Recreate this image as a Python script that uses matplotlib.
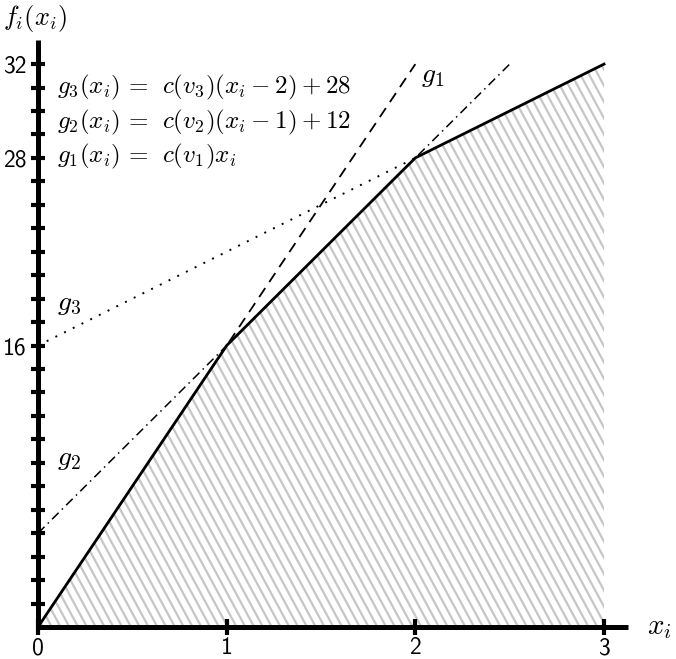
import numpy as np
import matplotlib

matplotlib.use("Agg")
import matplotlib.pyplot as plt
from matplotlib.collections import LineCollection
from matplotlib.patches import Polygon

plt.rcParams["mathtext.fontset"] = "cm"

# piecewise-linear f_i and its three pieces
x_knots = [0, 1, 2, 3]
f_knots = [0, 16, 26.67, 32]
g1_x = [0, 2]
g1_y = [0, 32]
g2_x = [0, 2.5]
g2_y = [5.33, 32]
g3_x = [0, 2]
g3_y = [16, 26.67]

x_ticks = [0, 1, 2, 3]
x_tick_labels = ["0", "1", "2", "3"]
y_tick_step = 4 / 3
y_labelled = {16: "16", 26.67: "28", 32: "32"}

equations = [
    r"$g_3(x_i)\,=\;\,c(v_3)(x_i-2)+28$",
    r"$g_2(x_i)\,=\;\,c(v_2)(x_i-1)+12$",
    r"$g_1(x_i)\,=\;\,c(v_1)x_i$",
]

SANS = "cmss10"

fig = plt.figure(figsize=(6.76, 6.59), dpi=100)
ax = fig.add_axes([38 / 676, 32 / 659, 590 / 676, 587 / 659])
ax.set_xlim(0, 3.127)
ax.set_ylim(0, 33.37)

# hatched region under f
poly = Polygon(list(zip(x_knots, f_knots)) + [(3, 0)], closed=True,
               facecolor="none", edgecolor="none")
ax.add_patch(poly)
px_x = 590 / 3.127
px_y = 587 / 33.37
spacing = 8.8 / px_x
slope = 1.85 * px_x / px_y
segs = []
for x0 in np.arange(-2.2, 3.4, spacing):
    segs.append([(x0, 34), (x0 + 34 / slope, 0)])
hatch = LineCollection(segs, colors="#c6c6c6", linewidths=1.6, zorder=1)
hatch.set_clip_path(poly)
ax.add_collection(hatch)

ax.plot(g1_x, g1_y, color="black", lw=1.3, ls=(0, (6, 4)), zorder=3)
ax.plot(g2_x, g2_y, color="black", lw=1.1, ls=(0, (6, 3, 1, 3)), zorder=3)
ax.plot(g3_x, g3_y, color="black", lw=1.4, ls=(0, (1, 4)), zorder=3)
ax.plot(x_knots, f_knots, color="black", lw=2.0, zorder=4, solid_joinstyle="miter")

for spine in ("top", "right"):
    ax.spines[spine].set_visible(False)
for spine in ("left", "bottom"):
    ax.spines[spine].set_linewidth(3.6)
    ax.spines[spine].set_capstyle("butt")

ax.set_xticks(x_ticks)
ax.set_xticklabels(x_tick_labels, fontsize=17, fontfamily=SANS)
y_ticks = np.arange(1, 25) * y_tick_step
ax.set_yticks(y_ticks)
labels = []
for t in y_ticks:
    lab = ""
    for k, v in y_labelled.items():
        if abs(t - k) < 0.05:
            lab = v
    labels.append(lab)
ax.set_yticklabels(labels, fontsize=17, fontfamily=SANS)
ax.tick_params(axis="x", direction="inout", length=12, width=3, pad=1.5)
ax.tick_params(axis="y", direction="inout", length=10, width=3, pad=3)

for i, eq in enumerate(equations):
    ax.text(0.1, 30.65 - i * 1.95, eq, fontsize=18, va="center", ha="left")

ax.text(2.03, 31.4, r"$g_1$", fontsize=20, ha="left", va="center")
ax.text(0.1, 9.6, r"$g_2$", fontsize=20, ha="left", va="center")
ax.text(0.1, 18.4, r"$g_3$", fontsize=20, ha="left", va="center")
fig.text(3 / 676, 1 - 18 / 659, r"$f_i(x_i)$", fontsize=19, ha="left", va="center")
fig.text(647 / 676, 1 - 627 / 659, r"$x_i$", fontsize=21, ha="left", va="center")

fig.savefig("out.png", dpi=100)
